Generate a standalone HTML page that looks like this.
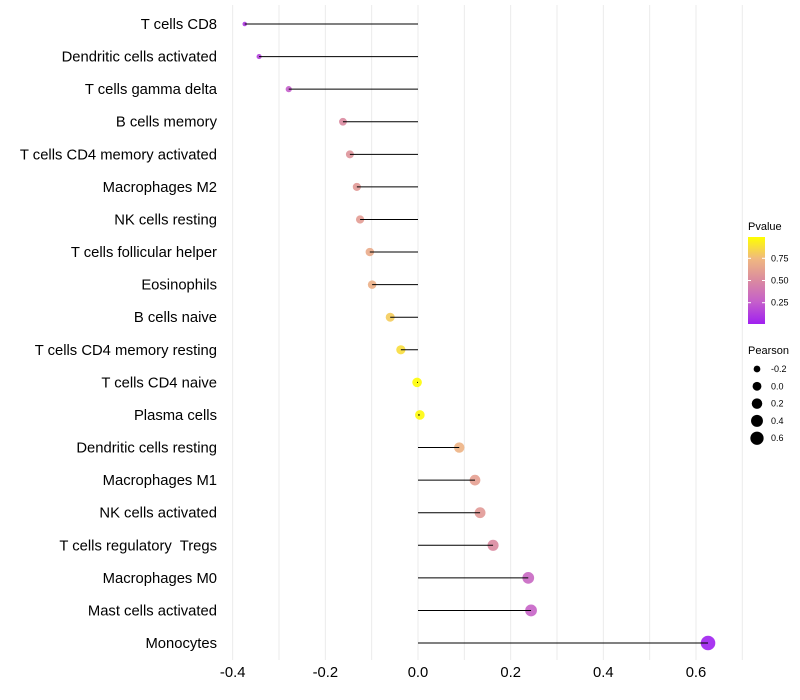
<!DOCTYPE html>
<html><head><meta charset="utf-8"><style>
body{margin:0;background:#fff;}
svg{display:block;font-family:"Liberation Sans",sans-serif;}
text{white-space:pre;}
</style></head><body>
<svg id="chart" width="800" height="700"></svg>
<script>
const categories=["T cells CD8","Dendritic cells activated","T cells gamma delta","B cells memory","T cells CD4 memory activated","Macrophages M2","NK cells resting","T cells follicular helper","Eosinophils","B cells naive","T cells CD4 memory resting","T cells CD4 naive","Plasma cells","Dendritic cells resting","Macrophages M1","NK cells activated","T cells regulatory  Tregs","Macrophages M0","Mast cells activated","Monocytes"];
const pearson=[-0.374,-0.343,-0.279,-0.162,-0.147,-0.132,-0.125,-0.104,-0.099,-0.060,-0.037,-0.002,0.004,0.089,0.123,0.134,0.162,0.238,0.244,0.626];
const pvalues=[0.10,0.14,0.25,0.50,0.55,0.58,0.60,0.68,0.70,0.82,0.88,0.99,0.98,0.72,0.62,0.58,0.50,0.30,0.28,0.003];
const xTicks=[-0.4,-0.2,0.0,0.2,0.4,0.6];
const xTickLabels=["-0.4","-0.2","0.0","0.2","0.4","0.6"];
const gridVals=[-0.4,-0.3,-0.2,-0.1,0,0.1,0.2,0.3,0.4,0.5,0.6,0.7];
const sizeLegendVals=[-0.2,0,0.2,0.4,0.6];
const colorLegendVals=[0.25,0.5,0.75];

const NS="http://www.w3.org/2000/svg";
const svg=document.getElementById('chart');
function mk(t,a,p){const e=document.createElementNS(NS,t);for(const k in a)e.setAttribute(k,a[k]);(p||svg).appendChild(e);return e;}
const x=v=>418+v*463.3;
const y=i=>24+i*32.58;
const r=v=>Math.sqrt(Math.max(1,23+48*v));
const stops=[[0,[160,32,240]],[0.25,[196,94,203]],[0.5,[218,138,160]],[0.75,[240,184,128]],[1,[255,255,0]]];
function col(p){for(let i=1;i<stops.length;i++){if(p<=stops[i][0]){const a=stops[i-1],b=stops[i];const t=(p-a[0])/(b[0]-a[0]);const c=a[1].map((v,j)=>Math.round(v+(b[1][j]-v)*t));return `rgb(${c})`;}}return 'rgb(255,255,0)';}

gridVals.forEach(v=>{const l=mk('line',{x1:x(v),x2:x(v),y1:5,y2:660,stroke:'#ebebeb','stroke-width':1});

});
xTicks.forEach((v,i)=>{const t=mk('text',{x:x(v),y:677,'text-anchor':'middle','font-size':14.8,fill:'#000'});t.textContent=xTickLabels[i];

});
categories.forEach((c,i)=>{
 const t=mk('text',{x:217,y:y(i)+5,'text-anchor':'end','font-size':14.8,fill:'#000'});t.textContent=c;
 
 
 const p=mk('circle',{cx:x(pearson[i]),cy:y(i),r:r(pearson[i]),fill:col(pvalues[i]),'fill-opacity':0.9});
 
 
 const l=mk('line',{x1:x(0),x2:x(pearson[i]),y1:y(i),y2:y(i),stroke:'#000','stroke-width':1});
 
 
});
const g=mk('g',{});
const tt=mk('text',{x:748,y:230,'font-size':11},g);tt.textContent='Pvalue';
const defs=mk('defs',{},svg);const lg=mk('linearGradient',{id:'pg',x1:0,y1:1,x2:0,y2:0},defs);
stops.forEach(s=>mk('stop',{offset:s[0],'stop-color':`rgb(${s[1]})`},lg));
const bt=237,bb=324;
mk('rect',{x:748,y:bt,width:17,height:bb-bt,fill:'url(#pg)'},g);
colorLegendVals.forEach(v=>{const yy=bb-(v-0.01)/0.98*(bb-bt);
 mk('line',{x1:748,x2:751,y1:yy,y2:yy,stroke:'#fff'},g);mk('line',{x1:762,x2:765,y1:yy,y2:yy,stroke:'#fff'},g);
 const t=mk('text',{x:771,y:yy+3,'font-size':9},g);t.textContent=v.toFixed(2);});
const g2=mk('g',{});
const t2=mk('text',{x:748,y:354,'font-size':11},g2);t2.textContent='Pearson';
sizeLegendVals.forEach((v,i)=>{const yy=369+i*17.3;mk('circle',{cx:757,cy:yy,r:r(v)*0.92,fill:'#000'},g2);
 const t=mk('text',{x:771,y:yy+3,'font-size':9},g2);t.textContent=v.toFixed(1);});
</script>
</body></html>
